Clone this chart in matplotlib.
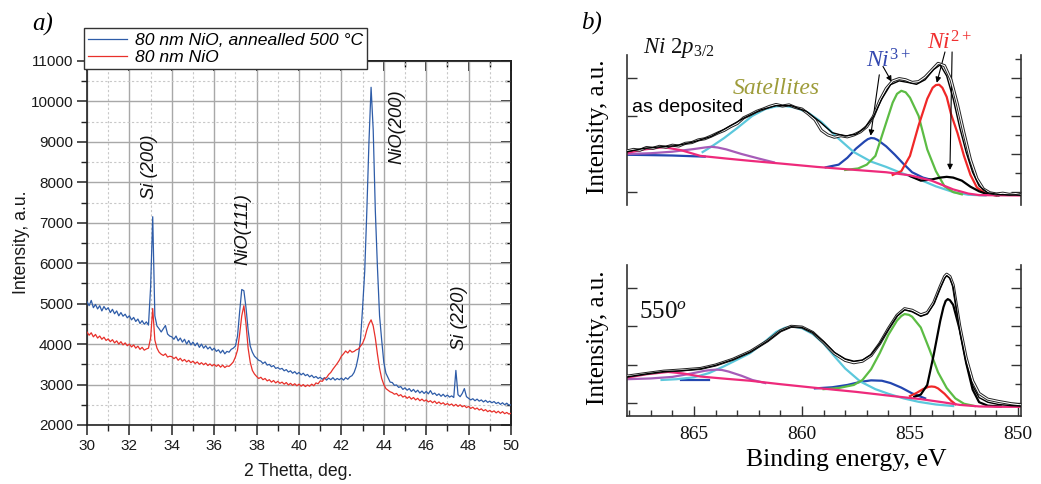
import numpy as np
import matplotlib
matplotlib.use("Agg")
import matplotlib.pyplot as plt
from matplotlib.ticker import MultipleLocator

plt.rcParams['font.family'] = ['Liberation Sans', 'DejaVu Sans']
plt.rcParams['mathtext.fontset'] = 'custom'
plt.rcParams['mathtext.it'] = 'Liberation Serif:italic'
plt.rcParams['mathtext.rm'] = 'Liberation Serif'
plt.rcParams['mathtext.bf'] = 'Liberation Serif:bold'

# ---------------- Panel a: XRD data ----------------
two_theta = np.round(np.arange(30.0, 50.0001, 0.1), 1)
xrd_annealed = [
    5050, 4950, 5080, 4900, 4980, 4870, 4950, 4820, 4930, 4850,
    4900, 4780, 4860, 4750, 4820, 4700, 4780, 4690, 4740, 4650,
    4700, 4600, 4660, 4560, 4620, 4510, 4580, 4490, 4550, 4470,
    5400, 7150, 4700, 4450, 4380, 4300, 4380, 4460, 4250, 4200,
    4180, 4120, 4200, 4080, 4150, 4050, 4120, 4000, 4090, 3980,
    4050, 3960, 4030, 3920, 4000, 3900, 3960, 3880, 3930, 3850,
    3900, 3820, 3860, 3780, 3850, 3760, 3820, 3800, 3870, 3900,
    3950, 4200, 4800, 5350, 5320, 4900, 4350, 3950, 3800, 3700,
    3650, 3600, 3580, 3520, 3560, 3480, 3500, 3440, 3470, 3400,
    3420, 3380, 3400, 3340, 3370, 3310, 3340, 3280, 3320, 3260,
    3300, 3240, 3280, 3220, 3250, 3190, 3230, 3170, 3200, 3150,
    3180, 3130, 3170, 3110, 3160, 3120, 3170, 3110, 3150, 3120,
    3160, 3110, 3170, 3130, 3190, 3220, 3300, 3450, 3700, 4100,
    4900, 5800, 7300, 9000, 10350, 9300, 7300, 5900, 4700, 4100,
    3550, 3280, 3170, 3060, 3050, 2980, 2990, 2930, 2950, 2880,
    2920, 2860, 2900, 2830, 2880, 2810, 2860, 2790, 2840, 2780,
    2830, 2770, 2850, 2760, 2790, 2730, 2770, 2710, 2760, 2700,
    2740, 2690, 2720, 2680, 3350, 2750, 2700, 2780, 2900, 2700,
    2660, 2620, 2650, 2600, 2640, 2590, 2620, 2570, 2610, 2560,
    2590, 2550, 2580, 2530, 2560, 2510, 2550, 2500, 2540, 2490,
    2500]
xrd_as_dep = [
    4300, 4220, 4280, 4180, 4240, 4150, 4200, 4120, 4170, 4090,
    4130, 4060, 4110, 4030, 4080, 4000, 4060, 3980, 4030, 3960,
    4000, 3930, 3980, 3900, 3950, 3870, 3920, 3850, 3880, 3900,
    4150, 4880, 4100, 3900, 3800, 3750, 3720, 3760, 3680, 3700,
    3690, 3640, 3680, 3600, 3650, 3580, 3620, 3560, 3600, 3540,
    3580, 3520, 3560, 3500, 3540, 3490, 3530, 3470, 3510, 3460,
    3500, 3450, 3490, 3430, 3480, 3420, 3460, 3450, 3500, 3560,
    3680, 3850, 4250, 4700, 4950, 4500, 3900, 3550, 3350, 3260,
    3200, 3150, 3180, 3120, 3150, 3090, 3120, 3060, 3100, 3040,
    3080, 3030, 3060, 3010, 3050, 2990, 3030, 2980, 3020, 2970,
    3010, 2960, 3000, 2950, 2990, 2960, 3010, 2970, 3040, 3020,
    3090, 3080, 3150, 3170, 3250, 3300, 3380, 3450, 3520, 3600,
    3700, 3760, 3830, 3780, 3850, 3800, 3820, 3860, 3880, 3950,
    4020, 4150, 4350, 4500, 4600, 4450, 4150, 3750, 3400, 3150,
    3000, 2900, 2860, 2820, 2800, 2760, 2780, 2720, 2750, 2690,
    2720, 2660, 2700, 2640, 2680, 2620, 2660, 2600, 2640, 2590,
    2620, 2570, 2600, 2550, 2590, 2530, 2570, 2520, 2550, 2500,
    2530, 2490, 2520, 2470, 2510, 2460, 2500, 2450, 2480, 2430,
    2460, 2410, 2440, 2390, 2420, 2370, 2400, 2350, 2380, 2330,
    2360, 2320, 2350, 2300, 2340, 2290, 2330, 2280, 2310, 2270,
    2290]
xrd_labels = ["80 nm NiO, annealled 500 °C", "80 nm NiO"]
peak_names = ["Si (200)", "NiO(111)", "NiO(200)", "Si (220)"]
peak_pos = [(32.97, 8380), (37.36, 6850), (44.62, 9370), (47.55, 4650)]

# ---------------- Panel b: XPS, as deposited ----------------
t_bg_E = [868.1, 867.3, 866.4, 865.6, 864.7, 863.5, 862.4, 861.0, 859.3, 857.5, 856.1, 855.0, 854.0, 853.0, 852.3, 851.8, 849.86]
t_bg_y = [1.03, 1.12, 1.18, 1.10, 0.95, 0.88, 0.82, 0.75, 0.66, 0.58, 0.52, 0.44, 0.30, 0.07, -0.04, -0.08, -0.09]
t_pur_E = [868.1, 867.0, 866.0, 865.0, 864.5, 864.2, 863.9, 863.5, 862.8, 862.0, 861.3]
t_pur_y = [1.00, 1.02, 1.06, 1.13, 1.17, 1.19, 1.17, 1.12, 1.00, 0.88, 0.78]
t_cyan_E = [864.6, 864.2, 863.6, 863.0, 862.3, 861.7, 861.2, 860.8, 860.3, 859.7, 859.1, 858.4, 857.6, 856.8, 856.1, 855.4, 854.6, 853.8, 853.0, 852.3, 851.5]
t_cyan_y = [1.05, 1.19, 1.42, 1.68, 2.00, 2.18, 2.25, 2.26, 2.22, 2.08, 1.84, 1.45, 1.05, 0.80, 0.66, 0.50, 0.34, 0.15, 0.00, -0.07, -0.09]
t_blueL_E = [868.1, 867.0, 866.0, 865.0, 864.5]
t_blueL_y = [0.98, 0.97, 0.96, 0.94, 0.93]
t_blue_E = [858.9, 858.3, 857.9, 857.5, 857.1, 856.95, 856.8, 856.65, 856.5, 856.1, 855.7, 855.3, 854.9, 854.4, 854.0]
t_blue_y = [0.65, 0.72, 0.90, 1.14, 1.33, 1.39, 1.42, 1.41, 1.37, 1.20, 0.98, 0.74, 0.52, 0.38, 0.32]
t_green_E = [858.0, 857.4, 857.0, 856.6, 856.2, 855.8, 855.6, 855.4, 855.2, 855.0, 854.6, 854.2, 853.8, 853.4, 853.0, 852.6]
t_green_y = [0.58, 0.62, 0.72, 0.95, 1.65, 2.35, 2.58, 2.66, 2.62, 2.48, 2.00, 1.12, 0.55, 0.15, 0.00, -0.06]
t_red_E = [855.8, 855.4, 855.0, 854.6, 854.2, 853.95, 853.8, 853.65, 853.5, 853.3, 853.1, 852.8, 852.5, 852.2, 851.9, 851.5, 851.0]
t_red_y = [0.45, 0.55, 0.95, 1.75, 2.45, 2.74, 2.81, 2.82, 2.74, 2.50, 2.05, 1.55, 0.95, 0.45, 0.12, -0.04, -0.09]
t_blk_E = [855.0, 854.5, 854.0, 853.6, 853.3, 853.0, 852.6, 852.2, 851.8, 851.4, 850.9]
t_blk_y = [0.42, 0.30, 0.33, 0.38, 0.40, 0.38, 0.30, 0.14, 0.02, -0.06, -0.09]
t_env_E = [868.1, 867.3, 866.5, 865.8, 865.0, 864.2, 863.5, 862.7, 861.9, 861.2, 860.5, 859.8, 859.2, 858.6, 858.0, 857.5, 857.1, 856.7, 856.3, 855.9, 855.5, 855.1, 854.7, 854.3, 853.9, 853.6, 853.3, 853.0, 852.7, 852.4, 852.1, 851.8, 851.4, 850.8, 849.86]
t_env_y = [1.06, 1.15, 1.19, 1.22, 1.32, 1.46, 1.68, 1.94, 2.16, 2.27, 2.27, 2.12, 1.86, 1.56, 1.47, 1.52, 1.68, 1.97, 2.45, 2.82, 2.92, 2.88, 2.83, 2.95, 3.22, 3.34, 3.05, 2.45, 1.70, 1.05, 0.52, 0.16, -0.02, -0.07, -0.08]
t_dat_E = [868.1, 867.8, 867.5, 867.2, 866.9, 866.6, 866.3, 866.0, 865.7, 865.4, 865.1, 864.8, 864.5, 864.2, 863.9, 863.6, 863.3, 863.0, 862.7, 862.4, 862.1, 861.8, 861.5, 861.2, 860.9, 860.6, 860.3, 860.0, 859.7, 859.4, 859.1, 858.8, 858.5, 858.2, 857.9, 857.6, 857.3, 857.0, 856.7, 856.4, 856.1, 855.8, 855.5, 855.2, 854.9, 854.6, 854.3, 854.0, 853.7, 853.4, 853.1, 852.8, 852.5, 852.2, 851.9, 851.6, 851.3, 851.0, 850.7, 850.4, 850.1, 849.86]
t_dat_y = [1.08, 1.12, 1.10, 1.17, 1.15, 1.20, 1.18, 1.23, 1.21, 1.28, 1.30, 1.37, 1.40, 1.47, 1.55, 1.62, 1.72, 1.80, 1.95, 2.03, 2.12, 2.18, 2.25, 2.30, 2.26, 2.29, 2.22, 2.18, 2.05, 1.90, 1.62, 1.50, 1.44, 1.48, 1.45, 1.50, 1.58, 1.72, 1.98, 2.40, 2.72, 2.92, 2.98, 2.95, 2.88, 2.90, 3.02, 3.20, 3.38, 3.32, 2.95, 2.30, 1.55, 0.85, 0.35, 0.08, -0.02, -0.05, -0.03, -0.06, -0.04, -0.07]

# ---------------- Panel b: XPS, 550 ----------------
b_bg_E = [868.1, 867.2, 866.2, 865.5, 864.7, 863.5, 862.4, 861.0, 859.3, 857.5, 855.8, 854.5, 853.5, 852.7, 851.8, 851.0, 849.86]
b_bg_y = [0.66, 0.75, 0.81, 0.77, 0.69, 0.63, 0.58, 0.49, 0.39, 0.29, 0.18, 0.10, 0.02, -0.05, -0.09, -0.10, -0.10]
b_pur_E = [868.1, 867.0, 866.0, 865.2, 864.5, 864.2, 863.95, 863.7, 863.4, 862.8, 862.3, 861.7]
b_pur_y = [0.62, 0.64, 0.68, 0.76, 0.84, 0.86, 0.87, 0.86, 0.82, 0.71, 0.60, 0.52]
b_cyan_E = [866.5, 865.8, 865.0, 864.3, 863.6, 863.0, 862.4, 861.8, 861.2, 860.8, 860.45, 860.0, 859.5, 859.0, 858.5, 858.0, 857.3, 856.6, 856.0, 855.3, 854.6, 853.8, 853.0]
b_cyan_y = [0.60, 0.62, 0.67, 0.78, 0.96, 1.13, 1.30, 1.56, 1.85, 1.96, 2.00, 1.95, 1.80, 1.55, 1.22, 0.90, 0.56, 0.36, 0.24, 0.12, 0.03, -0.04, -0.08]
b_blueL_E = [865.6, 865.0, 864.3]
b_blueL_y = [0.60, 0.60, 0.60]
b_blue_E = [859.4, 858.6, 857.9, 857.3, 856.8, 856.3, 855.9, 855.4, 854.9, 854.3]
b_blue_y = [0.38, 0.41, 0.47, 0.55, 0.59, 0.58, 0.52, 0.40, 0.25, 0.12]
b_green_E = [859.0, 858.3, 857.6, 857.2, 856.8, 856.4, 856.0, 855.6, 855.4, 855.25, 855.05, 854.9, 854.5, 854.1, 853.7, 853.3, 852.9, 852.5, 852.0]
b_green_y = [0.36, 0.39, 0.47, 0.60, 0.88, 1.30, 1.78, 2.15, 2.27, 2.32, 2.30, 2.25, 1.97, 1.40, 0.80, 0.39, 0.12, -0.02, -0.08]
b_red_E = [855.0, 854.7, 854.4, 854.15, 854.0, 853.85, 853.7, 853.4, 853.1, 852.9]
b_red_y = [0.18, 0.26, 0.36, 0.42, 0.43, 0.42, 0.38, 0.24, 0.06, -0.03]
b_blk_E = [854.8, 854.5, 854.2, 853.9, 853.6, 853.45, 853.35, 853.25, 853.15, 853.0, 852.7, 852.4, 852.1, 851.8, 851.4, 850.8]
b_blk_y = [0.16, 0.22, 0.47, 1.26, 2.14, 2.50, 2.66, 2.71, 2.68, 2.56, 1.92, 1.05, 0.35, 0.02, -0.07, -0.09]
b_env_E = [868.1, 867.2, 866.4, 865.6, 864.7, 864.0, 863.2, 862.4, 861.6, 861.0, 860.5, 860.0, 859.5, 859.0, 858.5, 858.0, 857.6, 857.2, 856.8, 856.4, 856.0, 855.6, 855.25, 854.9, 854.5, 854.2, 853.9, 853.6, 853.4, 853.3, 853.15, 853.0, 852.7, 852.4, 852.1, 851.8, 851.4, 850.9, 850.3, 849.86]
b_env_y = [0.68, 0.76, 0.82, 0.84, 0.89, 0.98, 1.13, 1.33, 1.61, 1.87, 1.99, 1.97, 1.84, 1.60, 1.32, 1.15, 1.09, 1.12, 1.26, 1.55, 1.92, 2.27, 2.43, 2.38, 2.26, 2.32, 2.58, 3.00, 3.25, 3.32, 3.25, 3.02, 1.90, 1.05, 0.45, 0.14, 0.02, -0.04, -0.07, -0.08]
b_dat_E = [868.1, 867.2, 866.4, 865.6, 864.7, 864.0, 863.2, 862.4, 861.6, 861.0, 860.5, 860.0, 859.5, 859.0, 858.5, 858.0, 857.6, 857.2, 856.8, 856.4, 856.0, 855.6, 855.25, 854.9, 854.5, 854.2, 853.9, 853.6, 853.4, 853.3, 853.15, 853.0, 852.7, 852.4, 852.1, 851.8, 851.4, 850.9, 850.3, 849.86]
b_dat_y = [0.70, 0.77, 0.83, 0.86, 0.90, 0.99, 1.14, 1.34, 1.62, 1.88, 2.00, 1.98, 1.84, 1.58, 1.29, 1.11, 1.05, 1.09, 1.24, 1.55, 1.94, 2.29, 2.46, 2.42, 2.30, 2.36, 2.62, 3.04, 3.30, 3.36, 3.30, 3.08, 2.02, 1.18, 0.58, 0.25, 0.10, 0.04, -0.02, -0.05]

W, H = 1041, 484
fig = plt.figure(figsize=(W / 100, H / 100), dpi=100)

def fx(px):
    return px / W

def fy(py):
    return 1 - py / H

# ---------------- Panel a ----------------
axA = fig.add_axes([fx(87), fy(425), (511 - 87) / W, (425 - 61) / H])
axA.plot(two_theta, xrd_annealed, color='#2e5ca8', lw=0.9, label=xrd_labels[0], zorder=3)
axA.plot(two_theta, xrd_as_dep, color='#e8302a', lw=0.9, label=xrd_labels[1], zorder=3)
axA.set_xlim(30, 50)
axA.set_ylim(2000, 11000)
axA.xaxis.set_major_locator(MultipleLocator(2))
axA.xaxis.set_minor_locator(MultipleLocator(1))
axA.yaxis.set_major_locator(MultipleLocator(1000))
axA.yaxis.set_minor_locator(MultipleLocator(500))
axA.grid(which='major', color='#a8a8a8', lw=1.0, ls='-', zorder=0)
axA.grid(which='minor', color='#c8c8c8', lw=0.8, ls=(0, (2, 2)), zorder=0)
axA.set_axisbelow(True)
for s in axA.spines.values():
    s.set_color('#222222')
    s.set_linewidth(1.2)
axA.tick_params(which='major', direction='out', length=7, width=1.1, labelsize=11, pad=3,
                colors='#222222')
axA.tick_params(which='minor', direction='out', length=4, width=1.0, colors='#222222')
for lab in axA.get_xticklabels() + axA.get_yticklabels():
    lab.set_color('#1a1a1a')
secy = axA.secondary_yaxis('right')
secy.yaxis.set_major_locator(MultipleLocator(1000))
secy.yaxis.set_minor_locator(MultipleLocator(500))
secy.tick_params(which='major', direction='in', length=7, width=1.1, labelright=False)
secy.tick_params(which='minor', direction='in', length=4, width=1.0)
secy.spines['right'].set_linewidth(1.2)
secx = axA.secondary_xaxis('top')
secx.xaxis.set_major_locator(MultipleLocator(2))
secx.xaxis.set_minor_locator(MultipleLocator(1))
secx.tick_params(which='major', direction='in', length=7, width=1.1, labeltop=False)
secx.tick_params(which='minor', direction='in', length=4, width=1.0)
secx.spines['top'].set_linewidth(1.2)

for name, (px, py) in zip(peak_names, peak_pos):
    axA.text(px, py, name, rotation=90, ha='center', va='center', fontsize=13.2,
             fontstyle='italic', color='#111111', zorder=4)

leg = axA.legend(loc='upper left', bbox_to_anchor=(fx(84), fy(28)), bbox_transform=fig.transFigure,
                 borderaxespad=0, borderpad=0.25, handlelength=2.2, handletextpad=0.45,
                 labelspacing=0.12, fancybox=False, framealpha=1, edgecolor='#333333',
                 prop={'size': 12.6, 'style': 'italic'})
leg.get_frame().set_linewidth(1.0)
leg.set_zorder(10)

fig.text(fx(298), fy(472), "2 Thetta, deg.", ha='center', va='center', fontsize=12.7, color='#1a1a1a')
fig.text(fx(22), fy(242), "Intensity, a.u.", ha='center', va='center', rotation=90, fontsize=12.7,
         color='#1a1a1a')
fig.text(fx(43), fy(24), "a)", ha='center', va='center', fontsize=18, family='Liberation Serif',
         fontstyle='italic')
fig.text(fx(592), fy(23), "b)", ha='center', va='center', fontsize=18, family='Liberation Serif',
         fontstyle='italic')

# ---------------- Panel b ----------------
c_bg = '#ee2a7b'
c_pur = '#a65cb8'
c_cyan = '#5cc8dc'
c_blue = '#2346b0'
c_green = '#5cbc44'
c_red = '#f02828'

def style_xps(ax, bottom):
    ax.set_xlim(868.1, 849.86)
    ax.set_ylim(-0.34, 3.6)
    ax.spines['top'].set_visible(False)
    for s in ['left', 'right', 'bottom']:
        ax.spines[s].set_color('#333333')
        ax.spines[s].set_linewidth(1.2)
    ax.yaxis.set_major_locator(MultipleLocator(1))
    ax.yaxis.set_minor_locator(MultipleLocator(0.5))
    ax.tick_params(axis='y', which='major', direction='in', left=True, right=True,
                   length=7, width=1.0, labelleft=False, colors='#333333')
    ax.tick_params(axis='y', which='minor', direction='in', left=False, right=True,
                   length=4, width=1.0, colors='#333333')
    if bottom:
        ax.xaxis.set_major_locator(MultipleLocator(5))
        ax.xaxis.set_minor_locator(MultipleLocator(1))
        ax.tick_params(axis='x', which='major', direction='in', length=7, width=1.0,
                       labelsize=14, pad=7, colors='#333333')
        ax.tick_params(axis='x', which='minor', direction='in', length=4, width=1.0,
                       colors='#333333')
        for lab in ax.get_xticklabels():
            lab.set_family('Liberation Serif')
            lab.set_color('#111111')
    else:
        ax.spines['bottom'].set_visible(False)
        ax.tick_params(axis='x', which='both', bottom=False, labelbottom=False)

axT = fig.add_axes([fx(627), fy(205), (1021 - 627) / W, (205 - 55) / H])
style_xps(axT, False)
axT.plot(t_blueL_E, t_blueL_y, color=c_blue, lw=1.6)
axT.plot(t_blue_E, t_blue_y, color=c_blue, lw=1.6)
axT.plot(t_cyan_E, t_cyan_y, color=c_cyan, lw=1.6)
axT.plot(t_pur_E, t_pur_y, color=c_pur, lw=1.6)
axT.plot(t_green_E, t_green_y, color=c_green, lw=1.6)
axT.plot(t_red_E, t_red_y, color=c_red, lw=1.6)
axT.plot(t_blk_E, t_blk_y, color='black', lw=1.6)
axT.plot(t_bg_E, t_bg_y, color=c_bg, lw=1.6)
axT.plot(t_dat_E, t_dat_y, color='#222222', lw=2.2, zorder=4)
axT.plot(t_dat_E, t_dat_y, color='white', lw=0.8, zorder=4.1)
axT.plot(t_env_E, t_env_y, color='black', lw=1.0, zorder=4.2)

arr = dict(arrowstyle='-|>', lw=0.8, color='black', mutation_scale=8, shrinkA=0, shrinkB=0)
axT.annotate('', xy=(856.82, 1.48), xytext=(856.42, 3.08), arrowprops=arr, annotation_clip=False)
axT.annotate('', xy=(855.85, 2.9), xytext=(856.25, 3.3), arrowprops=arr, annotation_clip=False)
axT.annotate('', xy=(853.76, 2.87), xytext=(853.38, 3.68), arrowprops=arr, annotation_clip=False)
axT.annotate('', xy=(853.15, 0.58), xytext=(853.05, 3.68), arrowprops=arr, annotation_clip=False)

axB = fig.add_axes([fx(627), fy(416), (1021 - 627) / W, (416 - 265) / H])
style_xps(axB, True)
axB.plot(b_blueL_E, b_blueL_y, color=c_blue, lw=1.6)
axB.plot(b_blue_E, b_blue_y, color=c_blue, lw=1.6)
axB.plot(b_cyan_E, b_cyan_y, color=c_cyan, lw=1.6)
axB.plot(b_pur_E, b_pur_y, color=c_pur, lw=1.6)
axB.plot(b_green_E, b_green_y, color=c_green, lw=1.6)
axB.plot(b_red_E, b_red_y, color=c_red, lw=1.6)
axB.plot(b_blk_E, b_blk_y, color='black', lw=1.6)
axB.plot(b_bg_E, b_bg_y, color=c_bg, lw=1.6)
axB.plot(b_dat_E, b_dat_y, color='#222222', lw=2.2, zorder=4)
axB.plot(b_dat_E, b_dat_y, color='white', lw=0.8, zorder=4.1)
axB.plot(b_env_E, b_env_y, color='black', lw=1.0, zorder=4.2)

serif = 'Liberation Serif'
fig.text(fx(598), fy(127), "Intensity, a.u.", rotation=90, ha='center', va='center', fontsize=18,
         family=serif)
fig.text(fx(598), fy(338), "Intensity, a.u.", rotation=90, ha='center', va='center', fontsize=18,
         family=serif)
fig.text(fx(846), fy(460), "Binding energy, eV", ha='center', va='center', fontsize=18.5, family=serif)
fig.text(fx(643), fy(53), r'$\mathit{Ni\ 2p}_{\mathit{3/2}}$', ha='left', va='baseline', fontsize=16.5,
         color='#111111')
fig.text(fx(688), fy(107), "as deposited", ha='center', va='center', fontsize=14, color='black')
fig.text(fx(776), fy(88), "Satellites", ha='center', va='center', fontsize=17, family=serif,
         fontstyle='italic', color='#9e9c3a')
fig.text(fx(866), fy(68), r'$\mathit{Ni}^{\mathit{3+}}$', ha='left', va='baseline', fontsize=17,
         color='#3549b0')
fig.text(fx(927), fy(50), r'$\mathit{Ni}^{\mathit{2+}}$', ha='left', va='baseline', fontsize=17,
         color='#f03030')
fig.text(fx(639), fy(318), r'$\mathit{550}^{\mathit{o}}$', ha='left', va='baseline', fontsize=18,
         color='#111111')

fig.savefig('out.png', dpi=100)
